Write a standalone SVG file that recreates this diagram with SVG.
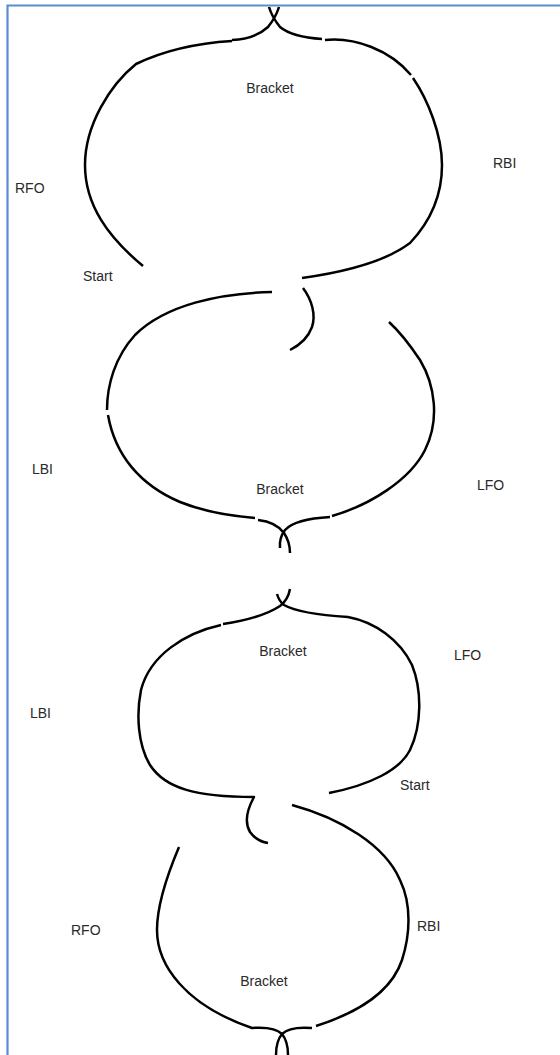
<svg xmlns="http://www.w3.org/2000/svg" width="560" height="1055" viewBox="0 0 560 1055">
<style>
.c{fill:none;stroke:#000;stroke-width:2.5;stroke-linecap:butt;stroke-linejoin:round}
.t{font-family:"Liberation Sans",Arial,Helvetica,sans-serif;font-size:14px;fill:#2a2a2a}
.m{text-anchor:middle}
</style>
<rect width="560" height="1055" fill="#fff"/>
<g id="border"><path d="M7.5,1055 V5.5 H560" fill="none" stroke="#5b8dd3" stroke-width="2.2"/></g>

<g id="figure-1">
<g class="curves">
<path class="c" d="M279,7 Q276,17 268,27 Q255,39 232,40"/>
<path class="c" d="M269,7 Q272,17 280,27 Q292,37 322,39"/>
<path class="c" d="M232,41 C200,43 165,50 136,64 C110,85 85,125 85,165 C85,205 108,237 143,266"/>
<path class="c" d="M325,40 C355,37 390,50 411,75"/>
<path class="c" d="M413,78 C428,100 442,135 442,165 C442,198 428,224 410,243 C385,262 345,272 302,278"/>
</g>
<text class="t m" x="270" y="93">Bracket</text>
<text class="t" x="493" y="168">RBI</text>
<text class="t" x="15" y="193">RFO</text>
<text class="t" x="83" y="281">Start</text>
</g>

<g id="figure-2">
<g class="curves">
<path class="c" d="M272,292 C220,293 165,305 135,335 C115,357 107,385 107,410"/>
<path class="c" d="M108,415 C115,455 140,485 180,502 C205,512 230,516 255,518"/>
<path class="c" d="M258,520 Q276,522 284,533 Q290,542 290,553"/>
<path class="c" d="M280,548 Q279,538 285,530 Q295,519 330,517"/>
<path class="c" d="M332,516 C370,505 410,480 425,450 C440,420 435,385 420,360 C410,345 400,332 389,322"/>
<path class="c" d="M303,288 C312,300 316,315 312,327 C308,338 300,345 290,350"/>
</g>
<text class="t" x="32" y="474">LBI</text>
<text class="t m" x="280" y="494">Bracket</text>
<text class="t" x="477" y="490">LFO</text>
</g>

<g id="figure-3">
<g class="curves">
<path class="c" d="M290,589 Q288,600 280,606 Q262,618 223,624"/>
<path class="c" d="M277,594 Q279,601 284,605 Q300,614 348,617"/>
<path class="c" d="M221,625 C185,633 150,655 141,690 C136,715 138,745 150,765 C165,788 195,797 254,797 C248,808 244,822 250,832 C255,839 262,842 268,843"/>
<path class="c" d="M348,617 C375,622 400,640 412,665 C422,690 422,725 410,750 C400,770 370,785 329,793"/>
</g>
<text class="t m" x="283" y="656">Bracket</text>
<text class="t" x="454" y="660">LFO</text>
<text class="t" x="30" y="718">LBI</text>
<text class="t" x="400" y="790">Start</text>
</g>

<g id="figure-4">
<g class="curves">
<path class="c" d="M292,805 C340,818 385,845 400,880 C412,905 410,935 402,960 C392,990 360,1012 316,1026"/>
<path class="c" d="M312,1028 C300,1027 288,1028 282,1034 C277,1040 276,1048 276,1055"/>
<path class="c" d="M179,847 C168,873 157,905 157,930 C157,965 185,1005 252,1028 C265,1027 277,1029 282,1034 C287,1040 288,1048 288,1055"/>
</g>
<text class="t" x="71" y="935">RFO</text>
<text class="t" x="417" y="931">RBI</text>
<text class="t m" x="264" y="986">Bracket</text>
</g>
</svg>
